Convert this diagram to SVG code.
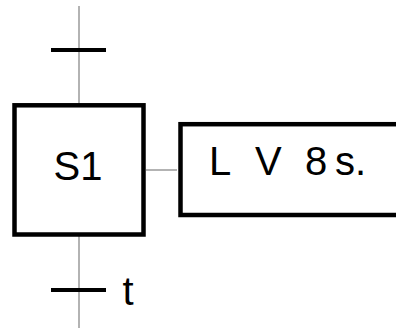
<svg xmlns="http://www.w3.org/2000/svg" width="396" height="331" viewBox="0 0 396 331">
<style>
.link{stroke:#808080;stroke-width:1.2;fill:none}
.bar{stroke:#000;stroke-width:4;fill:none}
.box{stroke:#000;stroke-width:4.5;fill:#fff}
.lbl{font-family:"Liberation Sans",Arial,sans-serif;font-size:40px;fill:#000}
</style>
<g id="connectors">
<line class="link" x1="79" y1="6" x2="79" y2="104"/>
<line class="link" x1="79" y1="236" x2="79" y2="328"/>
<line class="link" x1="146" y1="170" x2="177" y2="170"/>
</g>
<g id="transition-top">
<line class="bar" x1="51" y1="50" x2="106" y2="50"/>
</g>
<g id="step-S1">
<rect class="box" x="14.5" y="105.3" width="129" height="129.2"/>
<text class="lbl" x="78" y="180" text-anchor="middle">S1</text>
</g>
<g id="action">
<rect class="box" x="180.5" y="124.2" width="230" height="90.8"/>
<text class="lbl" y="175"><tspan x="209">L</tspan><tspan x="255">V</tspan><tspan x="305">8</tspan><tspan x="335">s.</tspan></text>
</g>
<g id="transition-t">
<line class="bar" x1="51" y1="290" x2="106" y2="290"/>
<text class="lbl" x="122.5" y="305">t</text>
</g>
</svg>
